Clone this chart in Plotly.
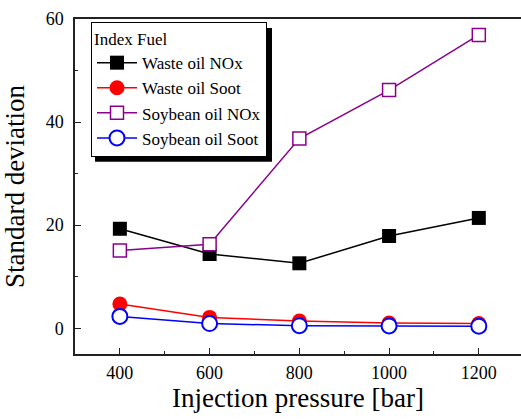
import plotly.graph_objects as go

pressure = [400, 600, 800, 1000, 1200]
waste_nox = [19.3, 14.4, 12.6, 17.9, 21.4]
waste_soot = [4.7, 2.1, 1.4, 1.0, 0.9]
soy_nox = [15.1, 16.3, 36.8, 46.2, 56.9]
soy_soot = [2.3, 0.9, 0.5, 0.45, 0.4]

FONT = "Liberation Serif"

fig = go.Figure()
fig.add_trace(go.Scatter(x=pressure, y=waste_nox, name="Waste oil NOx", mode="lines+markers",
                         line=dict(color="black", width=1.5),
                         marker=dict(symbol="square", size=14, color="black", line=dict(color="black", width=0))))
fig.add_trace(go.Scatter(x=pressure, y=waste_soot, name="Waste oil Soot", mode="lines+markers",
                         line=dict(color="#ff0000", width=1.5),
                         marker=dict(symbol="circle", size=15, color="#ff0000", line=dict(color="#ff0000", width=0))))
fig.add_trace(go.Scatter(x=pressure, y=soy_nox, name="Soybean oil NOx", mode="lines+markers",
                         line=dict(color="#8b008b", width=1.5),
                         marker=dict(symbol="square", size=13, color="white", line=dict(color="#8b008b", width=1.5))))
fig.add_trace(go.Scatter(x=pressure, y=soy_soot, name="Soybean oil Soot", mode="lines+markers",
                         line=dict(color="#0000ff", width=1.5),
                         marker=dict(symbol="circle", size=15, color="white", line=dict(color="#0000ff", width=2))))

# legend shadow
fig.add_shape(type="rect", xref="paper", yref="paper",
              x0=0.0448, x1=0.4417, y0=0.574, y1=0.973,
              fillcolor="black", line=dict(width=0), layer="above")

fig.update_layout(
    width=521, height=419,
    margin=dict(l=75, r=0, t=19, b=65),
    paper_bgcolor="white", plot_bgcolor="white",
    font=dict(family=FONT, color="black"),
    showlegend=True,
    legend=dict(
        x=0.0359, y=0.991, xanchor="left", yanchor="top",
        bgcolor="white", bordercolor="black", borderwidth=1,
        font=dict(family=FONT, size=17, color="black"),
        title=dict(text="Index Fuel", font=dict(family=FONT, size=17)),
        tracegroupgap=0, itemsizing="trace", itemwidth=40,
    ),
    xaxis=dict(
        range=[300, 1294], tickvals=[400, 600, 800, 1000, 1200],
        ticks="inside", ticklen=6, tickwidth=1.2, tickcolor="#222",
        minor=dict(dtick=100, tick0=300, ticks="inside", ticklen=3, tickcolor="#222"),
        showline=True, linecolor="#222", linewidth=1.5, mirror=True,
        showgrid=False, zeroline=False,
        tickfont=dict(family=FONT, size=18), ticklabelstandoff=2,
        title=dict(text="Injection pressure [bar]", font=dict(family=FONT, size=27), standoff=0),
    ),
    yaxis=dict(
        range=[-5, 60], tickvals=[0, 20, 40, 60],
        ticks="inside", ticklen=6, tickwidth=1.2, tickcolor="#222",
        minor=dict(dtick=10, tick0=0, ticks="inside", ticklen=3, tickcolor="#222"),
        showline=True, linecolor="#222", linewidth=1.5, mirror=False,
        showgrid=False, zeroline=False,
        tickfont=dict(family=FONT, size=18), ticklabelstandoff=6,
        title=dict(text="Standard deviation", font=dict(family=FONT, size=27), standoff=15),
    ),
)

fig.write_html("out.html")
